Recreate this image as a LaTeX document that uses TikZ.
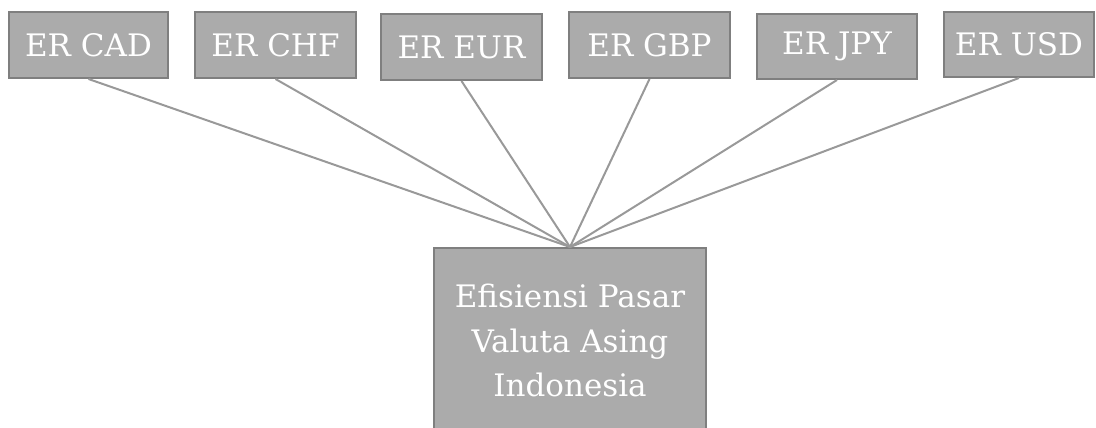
\documentclass[tikz,border=0pt]{standalone}
\usepackage{fontspec}
\setmainfont{DejaVu Serif}
\definecolor{boxfill}{HTML}{ABABAB}
\definecolor{boxline}{HTML}{7F7F7F}
\definecolor{linkline}{HTML}{999999}
\begin{document}
\begin{tikzpicture}[x=1pt,y=-1pt,
  currency/.style={draw=boxline, line width=2pt, fill=boxfill, text=white,
    inner sep=0pt, font=\fontsize{31}{36}\selectfont},
  target/.style={draw=boxline, line width=2pt, fill=boxfill},
  targettext/.style={text=white, inner sep=0pt, align=center,
    font=\fontsize{31}{44.5}\selectfont},
  link/.style={draw=linkline, line width=2pt}]
\useasboundingbox (0,0) rectangle (1096,428);
\clip (0,0) rectangle (1096,428);
% currency boxes along the top
\node[currency, minimum width=159pt, minimum height=66pt] (cad) at (88.5,45) {ER CAD};
\node[currency, minimum width=161pt, minimum height=66pt] (chf) at (275.5,45) {ER CHF};
\node[currency, minimum width=161pt, minimum height=66pt] (eur) at (461.5,47) {ER EUR};
\node[currency, minimum width=161pt, minimum height=66pt] (gbp) at (649.5,45) {ER GBP};
\node[currency, minimum width=160pt, minimum height=65pt] (jpy) at (837,46.5) {ER JPY};
\node[currency, minimum width=150pt, minimum height=65pt] (usd) at (1019,44.5) {ER USD};
% target box, running past the lower edge
\node[target, minimum width=272pt, minimum height=200pt, anchor=north] (eff) at (570,247) {};
\node[targettext, anchor=north] (efftext) at (570,284)
  {Efisiensi Pasar\\Valuta Asing\\Indonesia};
% connectors
\foreach \n in {cad,chf,eur,gbp,jpy,usd}
  \draw[link] (\n.south) -- (eff.north);
\end{tikzpicture}
\end{document}
